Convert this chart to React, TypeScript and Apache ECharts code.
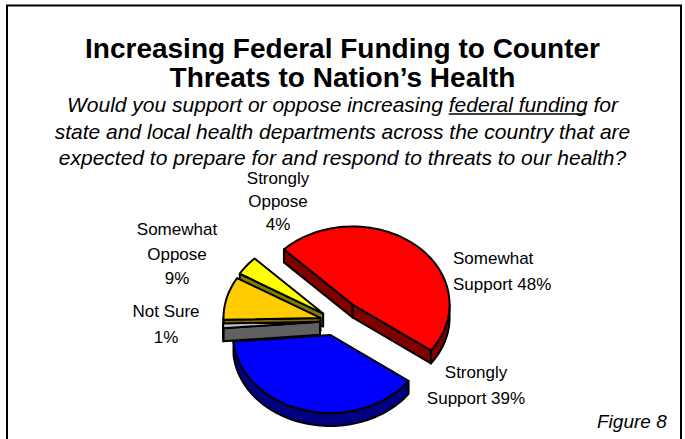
import React, { useEffect, useRef } from "react";
import * as echarts from "echarts";

// ---- data ----
const categories = ["Somewhat Support", "Strongly Support", "Not Sure", "Somewhat Oppose", "Strongly Oppose"];
const values = [48, 39, 1, 9, 4];
const labelNames = ["Somewhat\nSupport", "Strongly\nSupport", "Not Sure", "Somewhat\nOppose", "Strongly\nOppose"];
const labelJoin = [" ", " ", "\n", "\n", "\n"];

const titleLines = ["Increasing Federal Funding to Counter", "Threats to Nation\u2019s Health"];
const subtitleLines = [
  "Would you support or oppose increasing federal funding for",
  "state and local health departments across the country that are",
  "expected to prepare for and respond to threats to our health?",
];
const underlined = "federal funding";
const figureCaption = "Figure 8";

// ---- styles / layout ----
const TOP_COLORS = ["#FF0000", "#0000FF", "#C0C0C0", "#FFCC00", "#FFFF00"];
const SIDE_COLORS = ["#800000", "#000080", "#606060", "#8A6A00", "#808000"];
const EXPLODE = [27, 18, 15, 15, 15];
const START_ANGLE = -45;
const CX = 335, CY = 321, RX = 97, RY = 78, DEPTH = 13;
const LABEL_LAYOUT = [
  { x: 453, y: 271, align: "left", lh: 26 },
  { x: 476, y: 385, align: "center", lh: 26 },
  { x: 166, y: 324, align: "center", lh: 26 },
  { x: 177, y: 254, align: "center", lh: 24.5 },
  { x: 278, y: 201, align: "center", lh: 23 },
];
const FONT = '"Liberation Sans", Arial, sans-serif';

const total = values.reduce((a, b) => a + b, 0);
const startAngles: number[] = [];
const endAngles: number[] = [];
{
  let acc = START_ANGLE;
  values.forEach((v) => {
    startAngles.push(acc);
    acc += (v / total) * 360;
    endAngles.push(acc);
  });
}
const rad = (d: number) => (d * Math.PI) / 180;
const drawOrder = values
  .map((_, i) => i)
  .sort((a, b) => Math.cos(rad((startAngles[b] + endAngles[b]) / 2)) - Math.cos(rad((startAngles[a] + endAngles[a]) / 2)));

function pt(ox: number, oy: number, deg: number, dy = 0): number[] {
  const r = rad(deg);
  return [ox + RX * Math.sin(r), oy - RY * Math.cos(r) + dy];
}
function arcPts(ox: number, oy: number, a: number, b: number, dy = 0): number[][] {
  const n = Math.max(1, Math.ceil(Math.abs(b - a) / 2));
  const out: number[][] = [];
  for (let k = 0; k <= n; k++) out.push(pt(ox, oy, a + ((b - a) * k) / n, dy));
  return out;
}
function frontRanges(a0: number, a1: number): number[][] {
  const res: number[][] = [];
  for (const s of [-720, -360, 0, 360, 720]) {
    const lo = Math.max(a0, 90 + s);
    const hi = Math.min(a1, 270 + s);
    if (hi > lo) res.push([lo, hi]);
  }
  return res;
}

function renderItem(params: any, api: any) {
  const a0 = api.value(0);
  const a1 = api.value(1);
  const i = api.value(2);
  const mid = (a0 + a1) / 2;
  const e = EXPLODE[i];
  const ox = CX + e * Math.sin(rad(mid));
  const oy = CY - e * (RY / RX) * Math.cos(rad(mid));
  const stroke = { stroke: "#000", lineWidth: 2, lineJoin: "round" };
  const side = { fill: SIDE_COLORS[i], ...stroke };
  const children: any[] = [];
  const apex = [ox, oy];
  const apexB = [ox, oy + DEPTH];
  if (Math.sin(rad(a0)) < 0) {
    const p = pt(ox, oy, a0);
    children.push({ type: "polygon", shape: { points: [apex, p, [p[0], p[1] + DEPTH], apexB] }, style: side });
  }
  if (Math.sin(rad(a1)) > 0) {
    const p = pt(ox, oy, a1);
    children.push({ type: "polygon", shape: { points: [apex, p, [p[0], p[1] + DEPTH], apexB] }, style: side });
  }
  frontRanges(a0, a1).forEach(([lo, hi]) => {
    const top = arcPts(ox, oy, lo, hi);
    const bot = arcPts(ox, oy, lo, hi, DEPTH).reverse();
    children.push({ type: "polygon", shape: { points: top.concat(bot) }, style: side });
  });
  children.push({
    type: "polygon",
    shape: { points: [apex].concat(arcPts(ox, oy, a0, a1)) },
    style: { fill: TOP_COLORS[i], ...stroke },
  });
  return { type: "group", children };
}

function measure(text: string, font: string): number {
  const c = document.createElement("canvas").getContext("2d");
  if (!c) return text.length * 10;
  c.font = font;
  return c.measureText(text).width;
}

export default function App() {
  const ref = useRef<HTMLDivElement>(null);
  useEffect(() => {
    if (!ref.current) return;
    const chart = echarts.init(ref.current, undefined, { renderer: "svg" });
    const W = 685;
    const subFont = `italic 21px ${FONT}`;
    const subY = [104, 131, 157];
    const l0 = subtitleLines[0];
    const full = measure(l0, subFont);
    const pre = measure(l0.slice(0, l0.indexOf(underlined)), subFont);
    const seg = measure(underlined, subFont);
    const ux0 = W / 2 - full / 2 + pre;

    const graphics: any[] = [
      {
        type: "rect",
        shape: { x: 7, y: 5.5, width: 674, height: 480 },
        style: { fill: "none", stroke: "#000", lineWidth: 2 },
        silent: true,
      },
      ...titleLines.map((t, k) => ({
        type: "text",
        style: {
          text: t, x: W / 2, y: 48 + k * 29, font: `bold 28px ${FONT}`, fill: "#000",
          align: "center", verticalAlign: "middle", textAlign: "center", textVerticalAlign: "middle",
        },
      })),
      ...subtitleLines.map((t, k) => ({
        type: "text",
        style: {
          text: t, x: W / 2, y: subY[k], font: subFont, fill: "#000",
          align: "center", verticalAlign: "middle", textAlign: "center", textVerticalAlign: "middle",
        },
      })),
      {
        type: "line",
        shape: { x1: ux0, y1: subY[0] + 10, x2: ux0 + seg - 2, y2: subY[0] + 10 },
        style: { stroke: "#000", lineWidth: 1.3 },
      },
      ...values.map((v, i) => ({
        type: "text",
        style: {
          text: labelNames[i] + labelJoin[i] + v + "%",
          x: LABEL_LAYOUT[i].x, y: LABEL_LAYOUT[i].y,
          font: `17px ${FONT}`, fill: "#000", lineHeight: LABEL_LAYOUT[i].lh,
          align: LABEL_LAYOUT[i].align, verticalAlign: "middle",
          textAlign: LABEL_LAYOUT[i].align, textVerticalAlign: "middle",
        },
      })),
      {
        type: "text",
        style: {
          text: figureCaption, x: 597, y: 421, font: `italic 19px ${FONT}`, fill: "#000",
          align: "left", verticalAlign: "middle", textAlign: "left", textVerticalAlign: "middle",
        },
      },
    ];

    chart.setOption({
      animation: false,
      backgroundColor: "#fff",
      series: [
        {
          type: "custom",
          coordinateSystem: "none",
          silent: true,
          renderItem,
          data: drawOrder.map((i) => ({ name: categories[i], value: [startAngles[i], endAngles[i], i] })),
        },
      ],
      graphic: graphics,
    });
    return () => chart.dispose();
  }, []);
  return <div ref={ref} style={{ position: "fixed", left: 0, top: 0, width: 685, height: 439 }} />;
}
